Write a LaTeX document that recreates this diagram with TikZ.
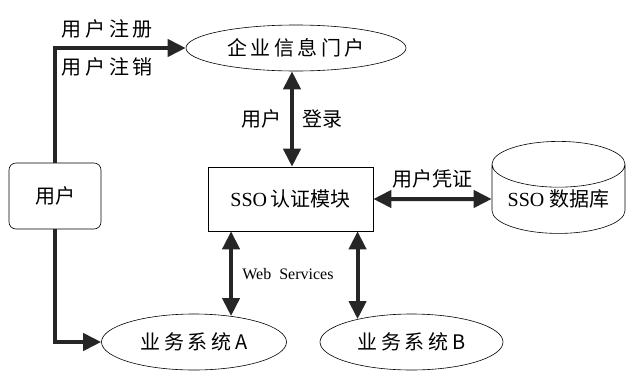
\documentclass[tikz,border=0pt]{standalone}
\usepackage{fontspec}
\setmainfont{Liberation Serif}
\newfontfamily\cjk{Noto Sans CJK SC}
\newfontfamily\cjksp[LetterSpace=18]{Noto Sans CJK SC}
\usetikzlibrary{arrows.meta,shapes.geometric}

\begin{document}
\begin{tikzpicture}[x=1pt,y=-1pt,>={Triangle[length=18pt,width=17pt]},
    semithick,font=\fontsize{20}{24}\selectfont]
  \tikzstyle{sys}=[ellipse,draw,inner sep=0pt]
  \tikzstyle{box}=[rectangle,draw,inner sep=0pt]
  \tikzstyle{link}=[line width=4pt,draw=black!85]

  \useasboundingbox (0,0) rectangle (627,370);

  \node[sys,minimum width=220pt,minimum height=46pt] (portal) at (296,48) {\cjksp 企业信息门户};
  \node[box,rounded corners=7pt,minimum width=92pt,minimum height=66pt] (user) at (55,196) {\cjk 用户};
  \node[box,minimum width=165pt,minimum height=64pt] (sso) at (290.5,199) {SSO\,\cjk 认证模块};
  \node[cylinder,shape border rotate=90,draw,aspect=0.45,inner sep=0pt,
        minimum width=133pt,minimum height=92pt] (db) at (558.5,199) {SSO\ {\cjk 数据库}};
  \node[sys,minimum width=185pt,minimum height=56pt] (sysA) at (194,342) {\cjksp 业务系统A};
  \node[sys,minimum width=183pt,minimum height=56pt] (sysB) at (411.5,342) {\cjksp 业务系统B};

  \draw[link,->] (user.north) |- (portal.west)
      node[pos=0.7,above=4pt] {\cjksp 用户注册}
      node[pos=0.7,below=4pt] {\cjksp 用户注销};
  \draw[link,->] (user.south) |- (sysA.west);
  \draw[link,<->] (sso.north -| 292,0) -- (portal.south -| 292,0)
      node[midway,left=5pt] {\cjk 用户}
      node[midway,right=5pt] {\cjk 登录};
  \draw[link,<->] (sso.east) -- (db.west)
      node[midway,above=5pt] {\cjk 用户凭证};
  \draw[link,<->] (sysA.35 |- sso.south) -- (sysA.35)
      node[midway,right=6pt,font=\fontsize{16}{18}\selectfont] {Web\ \ Services};
  \draw[link,<->] (sysB.157 |- sso.south) -- (sysB.157);
\end{tikzpicture}
\end{document}
